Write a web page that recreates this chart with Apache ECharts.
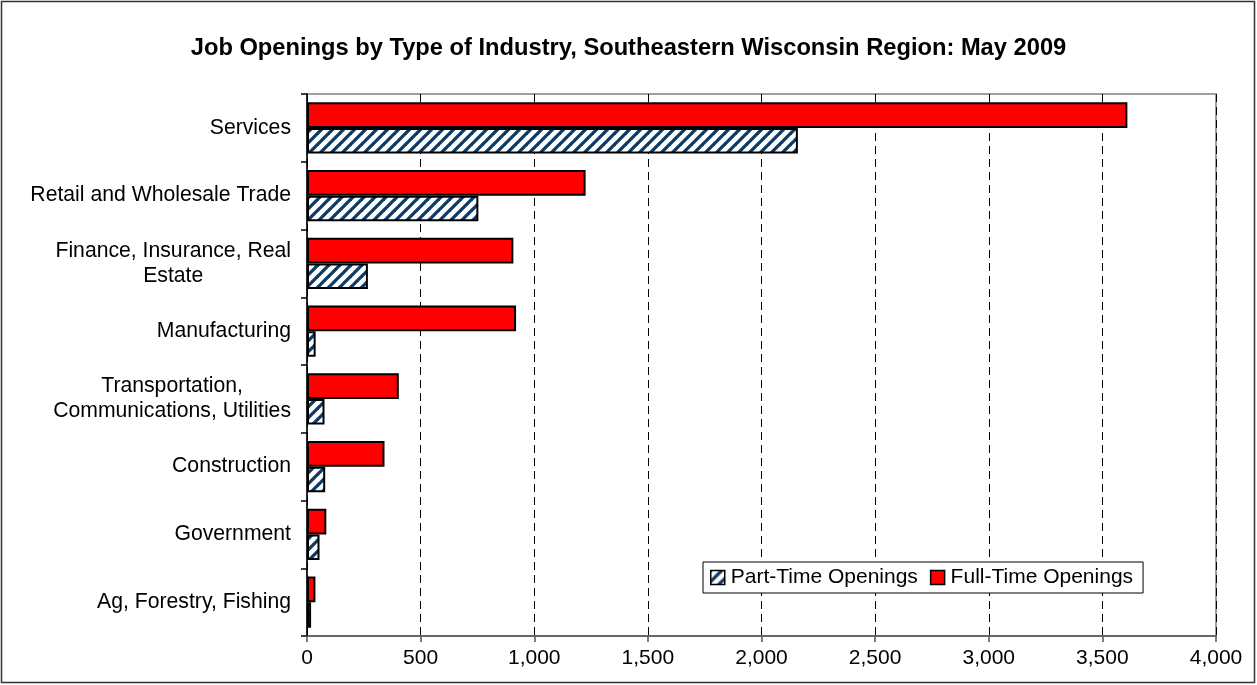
<!DOCTYPE html>
<html>
<head>
<meta charset="utf-8">
<script src="https://cdn.jsdelivr.net/npm/echarts@6/dist/echarts.min.js"></script>
<style>
html,body{margin:0;padding:0;background:#fff;}
#chart{width:1257px;height:685px;}
</style>
</head>
<body>
<div id="chart"></div>
<script>
// ---- data ----
const titleText = 'Job Openings by Type of Industry, Southeastern Wisconsin Region: May 2009';
const categories = [
  'Services',
  'Retail and Wholesale Trade',
  'Finance, Insurance, Real\nEstate',
  'Manufacturing',
  'Transportation,\nCommunications, Utilities',
  'Construction',
  'Government',
  'Ag, Forestry, Fishing'
];
const fullTimeName = 'Full-Time Openings';
const partTimeName = 'Part-Time Openings';
const fullTime = [3610, 1226, 908, 920, 404, 341, 85, 37];
const partTime = [2160, 754, 268, 38, 77, 80, 55, 18];
const xMin = 0, xMax = 4000, xInterval = 500;

// ---- hatch pattern ----
function makeHatch() {
  const s = 11;
  const c = document.createElement('canvas');
  c.width = s; c.height = s;
  const g = c.getContext('2d');
  g.fillStyle = '#ffffff';
  g.fillRect(0, 0, s, s);
  g.strokeStyle = '#0d3b66';
  g.lineWidth = 3.3;
  g.lineCap = 'square';
  const segs = [[-s, s, s, -s], [0, s, s, 0], [0, 2 * s, 2 * s, 0]];
  segs.forEach(([x1, y1, x2, y2]) => { g.beginPath(); g.moveTo(x1, y1); g.lineTo(x2, y2); g.stroke(); });
  return c;
}
const hatch = { image: makeHatch(), repeat: 'repeat' };

const FONT = "'Liberation Sans', Arial, sans-serif";
const chart = echarts.init(document.getElementById('chart'), null, { renderer: 'canvas' });

chart.setOption({
  backgroundColor: '#ffffff',
  animation: false,
  title: {
    text: titleText,
    left: 'center',
    top: 31,
    textStyle: { fontFamily: FONT, fontSize: 23.7, fontWeight: 'bold', color: '#000' }
  },
  graphic: [{
    type: 'rect',
    shape: { x: 1.5, y: 1.5, width: 1253, height: 681 },
    style: { fill: 'none', stroke: '#333', lineWidth: 1.5 },
    silent: true
  }],
  legend: {
    data: [partTimeName, fullTimeName],
    left: 703,
    top: 562,
    orient: 'horizontal',
    padding: [5, 10, 5, 7],
    itemGap: 12,
    itemWidth: 14,
    itemHeight: 14,
    backgroundColor: '#fff',
    borderColor: '#000',
    borderWidth: 1,
    borderRadius: 0,
    icon: 'rect',
    itemStyle: { borderColor: '#000', borderWidth: 1.5 },
    textStyle: { fontFamily: FONT, fontSize: 21, color: '#000', padding: [0, 0, 0, 1] }
  },
  grid: {
    left: 307, right: 41, top: 94, bottom: 49,
    show: true, borderColor: '#808080', borderWidth: 1.5,
    containLabel: false
  },
  xAxis: {
    type: 'value',
    min: xMin, max: xMax, interval: xInterval,
    axisLine: { show: true, lineStyle: { color: '#555', width: 1.5 } },
    axisTick: { show: true, length: 6, lineStyle: { color: '#555', width: 1.5 } },
    axisLabel: {
      margin: 12,
      fontFamily: FONT, fontSize: 21, color: '#000',
      formatter: v => v.toLocaleString('en-US')
    },
    splitLine: { show: true, lineStyle: { color: '#000', type: [8, 5], width: 1 } }
  },
  yAxis: {
    type: 'category',
    data: categories,
    inverse: true,
    axisLine: { show: true, lineStyle: { color: '#000', width: 1.5 } },
    axisTick: { show: true, length: 6, lineStyle: { color: '#000', width: 1.5 } },
    axisLabel: {
      margin: 16,
      align: 'right',
      formatter: v => v.split('\n').map(l => '{c|' + l + '}').join('\n'),
      rich: {
        c: { fontFamily: FONT, fontSize: 21.2, color: '#000', align: 'center', lineHeight: 25 }
      }
    },
    splitLine: { show: false }
  },
  series: [
    {
      name: fullTimeName,
      type: 'bar',
      data: fullTime,
      barGap: '0%',
      barCategoryGap: '24%',
      itemStyle: { color: '#ff0000', borderColor: '#000', borderWidth: 2 }
    },
    {
      name: partTimeName,
      type: 'bar',
      data: partTime,
      barGap: '0%',
      barCategoryGap: '24%',
      itemStyle: { color: hatch, borderColor: '#000', borderWidth: 2 }
    }
  ]
});
</script>
</body>
</html>
